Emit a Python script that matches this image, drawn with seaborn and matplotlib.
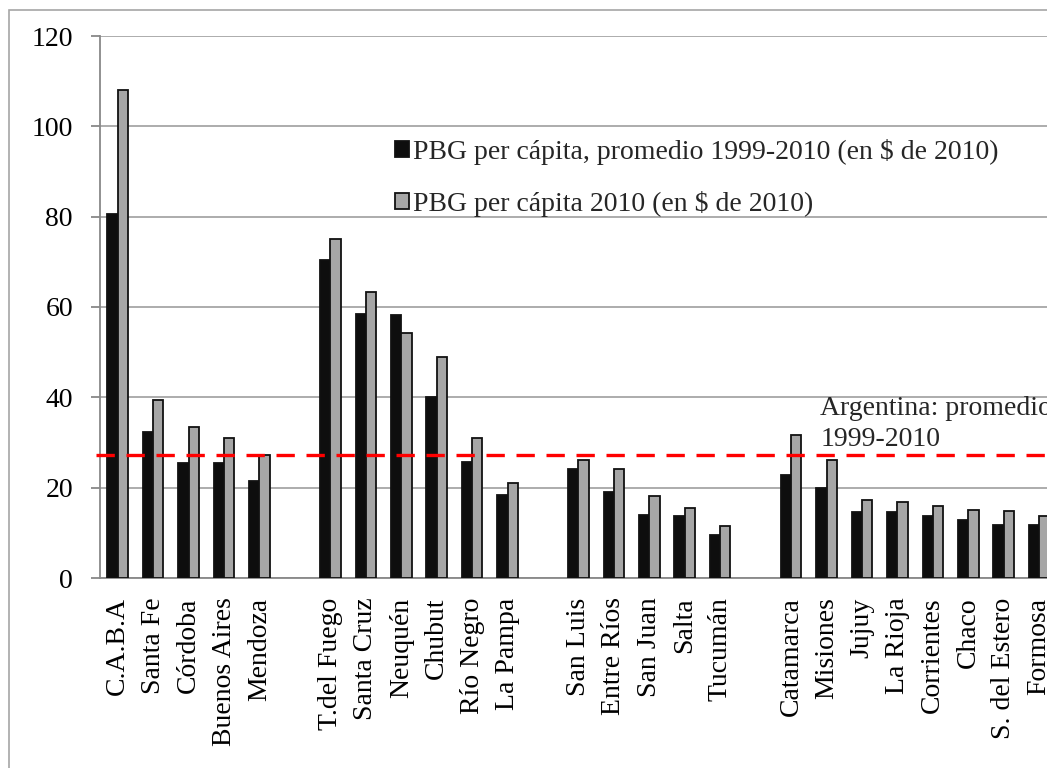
import numpy as np
import pandas as pd
import matplotlib
matplotlib.use("Agg")
import matplotlib.pyplot as plt
from matplotlib.patches import Rectangle
import seaborn as sns

# Provinces, grouped by region; blank slots separate the groups
regions = ["C.A.B.A", "Santa Fe", "Córdoba", "Buenos Aires", "Mendoza", " ",
           "T.del Fuego", "Santa Cruz", "Neuquén", "Chubut", "Río Negro", "La Pampa", "  ",
           "San Luis", "Entre Ríos", "San Juan", "Salta", "Tucumán", "   ",
           "Catamarca", "Misiones", "Jujuy", "La Rioja", "Corrientes", "Chaco",
           "S. del Estero", "Formosa"]

provinces = ["C.A.B.A", "Santa Fe", "Córdoba", "Buenos Aires", "Mendoza",
             "T.del Fuego", "Santa Cruz", "Neuquén", "Chubut", "Río Negro", "La Pampa",
             "San Luis", "Entre Ríos", "San Juan", "Salta", "Tucumán",
             "Catamarca", "Misiones", "Jujuy", "La Rioja", "Corrientes", "Chaco",
             "S. del Estero", "Formosa"]

pbg_promedio = [80.7, 32.3, 25.4, 25.4, 21.5,
                70.3, 58.5, 58.2, 40.1, 25.6, 18.4,
                24.1, 19.0, 13.9, 13.7, 9.5,
                22.8, 20.0, 14.6, 14.6, 13.7, 12.8, 11.8, 11.8]

pbg_2010 = [108.0, 39.3, 33.4, 30.9, 27.2,
            75.0, 63.3, 54.2, 48.9, 31.1, 21.0,
            26.1, 24.1, 18.1, 15.6, 11.5,
            31.7, 26.1, 17.3, 16.8, 16.0, 15.1, 14.8, 13.7]

argentina_promedio = 27.2

serie_prom = "PBG per cápita, promedio 1999-2010 (en $ de 2010)"
serie_2010 = "PBG per cápita 2010 (en $ de 2010)"

df = pd.DataFrame({
    "provincia": provinces * 2,
    "serie": [serie_prom] * len(provinces) + [serie_2010] * len(provinces),
    "valor": pbg_promedio + pbg_2010,
})

sns.set_theme(style="white")
plt.rcParams["font.family"] = ["Liberation Serif", "DejaVu Serif"]
plt.rcParams["font.size"] = 20

W, H = 1047, 768
fig = plt.figure(figsize=(W / 100, H / 100), dpi=100)

# axes placed in pixel terms; the right end runs past the figure edge
x0, x1 = 100, 100 + 27 * 35.44
y0, y1 = 578, 36
ax = fig.add_axes([x0 / W, (H - y0) / H, (x1 - x0) / W, (y0 - y1) / H])

# outer chart frame
fig.patches.append(Rectangle((9 / W, -0.05), 2.0, (H - 10) / H + 0.05,
                             transform=fig.transFigure, fill=False,
                             edgecolor="#a6a6a6", linewidth=1.2, zorder=0))

sns.barplot(data=df, x="provincia", y="valor", hue="serie", order=regions,
            hue_order=[serie_prom, serie_2010],
            palette={serie_prom: "#0e0e0e", serie_2010: "#a6a6a6"},
            width=0.58, edgecolor="#111111", linewidth=1.3, ax=ax,
            errorbar=None, legend=True, zorder=3)

ax.set_xlim(-0.5, len(regions) - 0.5)
ax.set_ylim(0, 120)
ax.set_yticks(np.arange(0, 121, 20))
ax.yaxis.grid(True, color="#a6a6a6", linewidth=1.3, zorder=0)
ax.xaxis.grid(False)
ax.set_axisbelow(True)

for side in ["top", "right"]:
    ax.spines[side].set_visible(False)
for side in ["left", "bottom"]:
    ax.spines[side].set_color("#888888")
    ax.spines[side].set_linewidth(1.3)

ax.set_xlabel("")
ax.set_ylabel("")

# category labels at bar centres, tick marks on the category boundaries
ax.set_xticks(np.arange(len(regions)))
ax.set_xticklabels(regions, rotation=90, ha="center", va="top", fontsize=20)
ax.set_xticks(np.arange(len(regions) + 1) - 0.5, minor=True)
ax.tick_params(axis="x", which="major", length=0, pad=14, colors="black")
ax.tick_params(axis="x", which="minor", length=6, width=1.3, color="#888888")
ax.tick_params(axis="y", which="major", length=6.5, width=1.3, color="#888888",
               pad=13, labelsize=20, labelcolor="black", left=True)

# national average reference line
ax.plot([-0.6, len(regions)], [argentina_promedio, argentina_promedio],
        color="#ff0000", linewidth=2.4, dashes=(5.5, 3.5), clip_on=False, zorder=4)
ax.text(19.82, 36.1, "Argentina: promedio", fontsize=20, va="baseline", ha="left")
ax.text(19.82, 29.3, "1999-2010", fontsize=20, va="baseline", ha="left")

handles, labels = ax.get_legend_handles_labels()
ax.legend(handles, labels, loc="upper left",
          bbox_to_anchor=(395 / W, (H - 139) / H), bbox_transform=fig.transFigure,
          frameon=False, fontsize=20, handlelength=0.5, handleheight=0.5,
          handletextpad=0.15, labelspacing=0.92, borderpad=0, borderaxespad=0)

fig.savefig("out.png", dpi=100, facecolor="white")
